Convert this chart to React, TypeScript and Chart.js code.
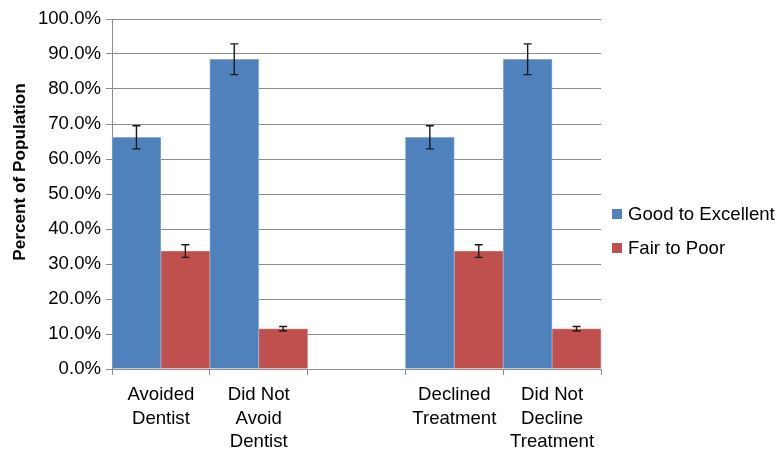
import React, { useEffect, useRef } from "react";
import { Chart, registerables } from "chart.js";

Chart.register(...registerables);

const categories: string[][] = [
  ["Avoided", "Dentist"],
  ["Did Not", "Avoid", "Dentist"],
  [""],
  ["Declined", "Treatment"],
  ["Did Not", "Decline", "Treatment"],
];
const goodValues: (number | null)[] = [66.2, 88.5, null, 66.2, 88.5];
const fairValues: (number | null)[] = [33.7, 11.5, null, 33.7, 11.5];
const goodErrors: (number | null)[] = [3.3, 4.4, null, 3.3, 4.4];
const fairErrors: (number | null)[] = [1.8, 0.65, null, 1.8, 0.65];
const seriesNames = ["Good to Excellent", "Fair to Poor"];
const seriesColors = ["#4F81BD", "#C0504D"];
const yTitle = "Percent of Population";

const FONT = "'Liberation Sans', Arial, Helvetica, sans-serif";

const errorBarPlugin = {
  id: "errorBars",
  afterDatasetsDraw(chart: any) {
    const ctx = chart.ctx;
    const yScale = chart.scales.y;
    const errs = [goodErrors, fairErrors];
    chart.data.datasets.forEach((ds: any, di: number) => {
      const meta = chart.getDatasetMeta(di);
      meta.data.forEach((el: any, i: number) => {
        const v = ds.data[i];
        const e = errs[di][i];
        if (v == null || e == null) return;
        const x = el.x;
        const yTop = yScale.getPixelForValue(v + e);
        const yBot = yScale.getPixelForValue(v - e);
        ctx.save();
        ctx.strokeStyle = "#1a1a1a";
        ctx.lineWidth = 1.4;
        ctx.beginPath();
        ctx.moveTo(x, yTop);
        ctx.lineTo(x, yBot);
        ctx.moveTo(x - 4, yTop);
        ctx.lineTo(x + 4, yTop);
        ctx.moveTo(x - 4, yBot);
        ctx.lineTo(x + 4, yBot);
        ctx.stroke();
        ctx.restore();
      });
    });
  },
};

const extrasPlugin = {
  id: "extras",
  afterDraw(chart: any) {
    const ctx = chart.ctx;
    ctx.save();
    // y-axis title
    ctx.translate(20, 172);
    ctx.rotate(-Math.PI / 2);
    ctx.font = `bold 17.2px ${FONT}`;
    ctx.fillStyle = "#000";
    ctx.textAlign = "center";
    ctx.textBaseline = "middle";
    ctx.fillText(yTitle, 0, 0);
    ctx.restore();
    // legend
    const centers = [214, 248];
    ctx.save();
    ctx.font = `18.6px ${FONT}`;
    ctx.textBaseline = "middle";
    ctx.textAlign = "left";
    seriesNames.forEach((name, i) => {
      ctx.fillStyle = seriesColors[i];
      ctx.fillRect(612, centers[i] - 5, 10, 10);
      ctx.fillStyle = "#000";
      ctx.fillText(name, 628, centers[i] + 1);
    });
    ctx.restore();
  },
};

export default function App() {
  const ref = useRef<HTMLCanvasElement | null>(null);
  useEffect(() => {
    document.body.style.margin = "0";
    if (!ref.current) return;
    const chart = new Chart(ref.current, {
      type: "bar",
      data: {
        labels: categories as any,
        datasets: [
          {
            label: seriesNames[0],
            data: goodValues,
            backgroundColor: seriesColors[0],
            borderColor: "#9DB8DC",
            borderWidth: 0.8,
            categoryPercentage: 1,
            barPercentage: 1,
          },
          {
            label: seriesNames[1],
            data: fairValues,
            backgroundColor: seriesColors[1],
            borderColor: "#D9918F",
            borderWidth: 0.8,
            categoryPercentage: 1,
            barPercentage: 1,
          },
        ],
      },
      options: {
        responsive: false,
        animation: false,
        layout: { padding: { left: 0, top: 19, right: 182, bottom: 0 } },
        plugins: {
          legend: { display: false },
          tooltip: { enabled: false },
        },
        scales: {
          x: {
            offset: true,
            grid: {
              offset: true,
              drawOnChartArea: false,
              drawTicks: true,
              tickLength: 6,
              color: "#8c8c8c",
            },
            border: { color: "#8c8c8c", width: 1 },
            ticks: {
              font: { family: FONT, size: 18.6, lineHeight: 1.27 },
              color: "#000",
              padding: 8,
              maxRotation: 0,
              autoSkip: false,
            },
            afterFit(scale: any) {
              scale.height = 83;
            },
          },
          y: {
            min: 0,
            max: 100,
            grid: {
              color: "#8c8c8c",
              tickLength: 6,
              lineWidth: 1,
            },
            border: { color: "#8c8c8c", width: 1 },
            ticks: {
              stepSize: 10,
              font: { family: FONT, size: 18.6 },
              color: "#000",
              padding: 5,
              callback: (v: any) => Number(v).toFixed(1) + "%",
            },
            afterFit(scale: any) {
              scale.width = 112;
            },
          },
        },
      },
      plugins: [errorBarPlugin, extrasPlugin],
    });
    return () => chart.destroy();
  }, []);
  return (
    <div style={{ width: 783, height: 452, background: "#fff" }}>
      <canvas ref={ref} width={783} height={452} />
    </div>
  );
}
